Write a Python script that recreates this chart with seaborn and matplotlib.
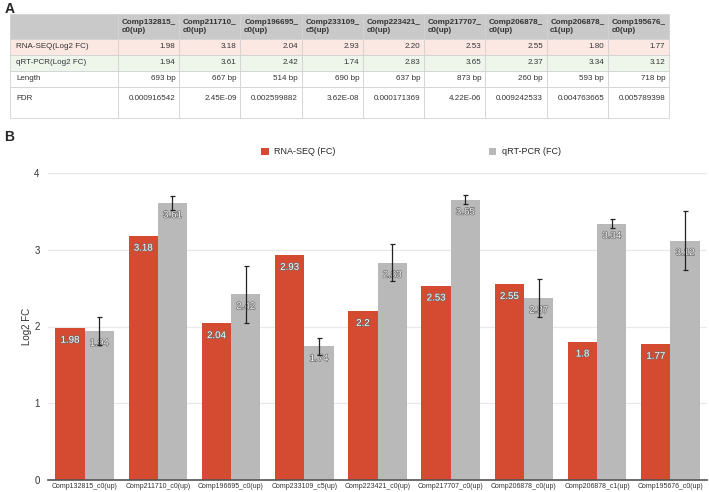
import numpy as np
import pandas as pd
import seaborn as sns
import matplotlib.pyplot as plt
import matplotlib.patheffects as pe

genes = ["Comp132815_c0(up)", "Comp211710_c0(up)", "Comp196695_c0(up)",
         "Comp233109_c5(up)", "Comp223421_c0(up)", "Comp217707_c0(up)",
         "Comp206878_c0(up)", "Comp206878_c1(up)", "Comp195676_c0(up)"]
rna_seq = [1.98, 3.18, 2.04, 2.93, 2.20, 2.53, 2.55, 1.80, 1.77]
qrt_pcr = [1.94, 3.61, 2.42, 1.74, 2.83, 3.65, 2.37, 3.34, 3.12]
qrt_err = [0.18, 0.09, 0.37, 0.11, 0.24, 0.06, 0.25, 0.06, 0.38]
lengths = [693, 667, 514, 690, 637, 873, 260, 593, 718]
fdr = ["0.000916542", "2.45E-09", "0.002599882", "3.62E-08", "0.000171369",
       "4.22E-06", "0.009242533", "0.004763665", "0.005789398"]

RED = "#D44B31"
GRAY = "#B9B9B9"

sns.set_theme(style="white")
plt.rcParams["font.family"] = ["Liberation Sans", "DejaVu Sans"]

fig = plt.figure(figsize=(7.09, 4.92), dpi=100)

# ---- panel A: table ----
ax_t = fig.add_axes([10 / 709, 1 - 118 / 492, 659 / 709, 104 / 492])
ax_t.axis("off")

header = [""] + [g.replace("_", "_\n", 1) for g in genes]
rows = [
    header,
    ["RNA-SEQ(Log2 FC)"] + [f"{v:.2f}" for v in rna_seq],
    ["qRT-PCR(Log2 FC)"] + [f"{v:.2f}" for v in qrt_pcr],
    ["Length"] + [f"{v} bp" for v in lengths],
    ["FDR\n "] + [f + "\n " for f in fdr],
]
tbl = ax_t.table(cellText=rows, bbox=[0, 0, 1, 1], cellLoc="right")
tbl.auto_set_font_size(False)
tbl.set_fontsize(5.8)

col_w = [108] + [61.2] * 9
row_h = [25, 16, 16, 16, 31]
row_bg = ["#C9C9C9", "#FCE8E2", "#EEF6EB", "white", "white"]
for (r, c), cell in tbl.get_celld().items():
    cell.set_width(col_w[c])
    cell.set_height(row_h[r])
    cell.set_facecolor(row_bg[r])
    cell.set_edgecolor("#D2D2D2")
    cell.set_linewidth(0.6)
    cell.PAD = 0.06
    if r == 0:
        cell.set_text_props(ha="left", weight="bold", color="#333333")
    elif c == 0:
        cell.set_text_props(ha="left", color="#333333")
    else:
        cell.set_text_props(ha="right", color="#333333")

fig.text(0.006, 0.995, "A", fontsize=10, weight="bold", va="top")
fig.text(0.006, 0.735, "B", fontsize=10, weight="bold", va="top")

# ---- panel B: bar chart ----
df = pd.DataFrame({
    "gene": genes * 2,
    "method": ["RNA-SEQ (FC)"] * len(genes) + ["qRT-PCR (FC)"] * len(genes),
    "fc": rna_seq + qrt_pcr,
})

ax = fig.add_axes([48 / 709, 12 / 492, 659 / 709, 307 / 492])
sns.barplot(data=df, x="gene", y="fc", hue="method", palette=[RED, GRAY],
            errorbar=None, saturation=1, width=0.8, linewidth=0, ax=ax)

bars = ax.containers[1]
xs = [b.get_x() + b.get_width() / 2 for b in bars]
ax.errorbar(xs, qrt_pcr, yerr=qrt_err, fmt="none", ecolor="#222222",
            elinewidth=0.9, capsize=1.8, capthick=0.9, zorder=5)

stroke = [pe.withStroke(linewidth=1.0, foreground="#6E6E6E")]
ax.bar_label(ax.containers[0], labels=[f"{v:g}" for v in rna_seq], padding=-12,
             color="white", fontsize=7, path_effects=stroke)
ax.bar_label(ax.containers[1], labels=[f"{v:g}" for v in qrt_pcr], padding=-12,
             color="#F4F4F4", fontsize=7, path_effects=stroke)

ax.set_xlim(-0.5, len(genes) - 0.5)
ax.set_ylim(0, 4)
ax.set_yticks([0, 1, 2, 3, 4])
ax.yaxis.grid(True, color="#E8E8E8", linewidth=0.9)
ax.set_axisbelow(True)
for s in ["top", "right", "left"]:
    ax.spines[s].set_visible(False)
ax.spines["bottom"].set_color("#555555")
ax.spines["bottom"].set_linewidth(1.2)
ax.tick_params(axis="y", length=0, labelsize=7, labelcolor="#333333", pad=6)
ax.tick_params(axis="x", length=0, labelsize=5.0, labelcolor="#333333", pad=2)
ax.set_xlabel("")
ax.set_ylabel("Log2 FC", fontsize=7, color="#333333", labelpad=2)

sns.move_legend(ax, "center", bbox_to_anchor=(411 / 709, 1 - 152 / 492),
                bbox_transform=fig.transFigure, ncol=2, frameon=False, title=None,
                handlelength=0.8, handleheight=0.8, handletextpad=0.6,
                columnspacing=17, fontsize=6.5)

fig.savefig("out.png", dpi=100)
